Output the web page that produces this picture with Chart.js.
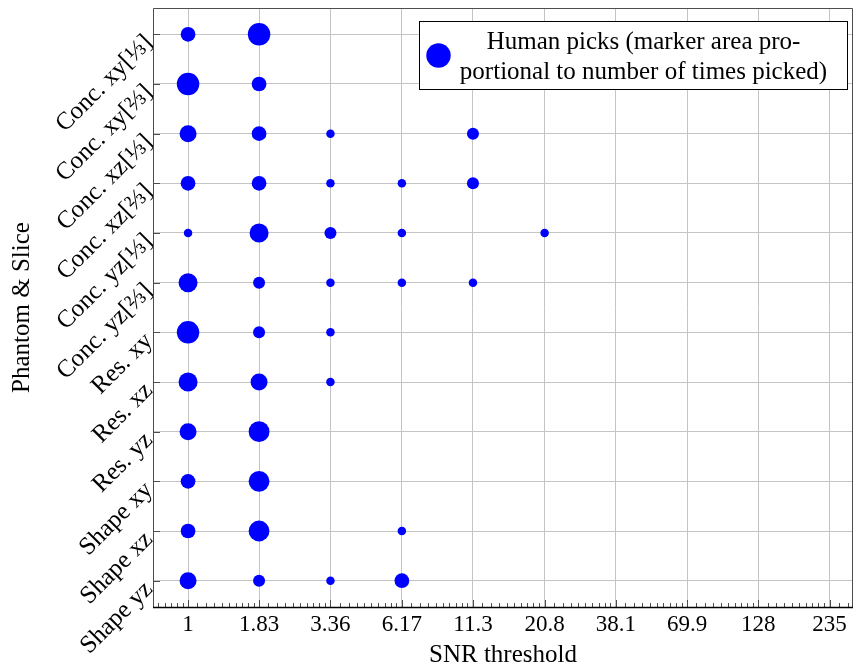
<!DOCTYPE html>
<html>
<head>
<meta charset="utf-8">
<script src="https://cdn.jsdelivr.net/npm/chart.js@4/dist/chart.umd.min.js"></script>
<style>
  html, body { margin: 0; padding: 0; background: #ffffff; }
  #wrap { width: 854px; height: 671px; }
</style>
</head>
<body>
<div id="wrap"><canvas id="chart" width="854" height="671"></canvas></div>
<script>
// Phantom / slice combinations shown on the vertical axis (top to bottom)
const slices = [
  'Conc. xy[⅓]', 'Conc. xy[⅔]', 'Conc. xz[⅓]', 'Conc. xz[⅔]',
  'Conc. yz[⅓]', 'Conc. yz[⅔]', 'Res. xy', 'Res. xz', 'Res. yz',
  'Shape xy', 'Shape xz', 'Shape yz'
];

// SNR thresholds offered to the readers (log-spaced)
const snrThresholds = [1, 1.83, 3.36, 6.17, 11.3, 20.8, 38.1, 69.9, 128, 235];
const snrTickLabels = ['1', '1.83', '3.36', '6.17', '11.3', '20.8', '38.1', '69.9', '128', '235'];

// Number of times each threshold was picked, one row per slice
const picks = [
  [3, 7, 0, 0, 0, 0, 0, 0, 0, 0],
  [7, 3, 0, 0, 0, 0, 0, 0, 0, 0],
  [4, 3, 1, 0, 2, 0, 0, 0, 0, 0],
  [3, 3, 1, 1, 2, 0, 0, 0, 0, 0],
  [1, 5, 2, 1, 0, 1, 0, 0, 0, 0],
  [5, 2, 1, 1, 1, 0, 0, 0, 0, 0],
  [7, 2, 1, 0, 0, 0, 0, 0, 0, 0],
  [5, 4, 1, 0, 0, 0, 0, 0, 0, 0],
  [4, 6, 0, 0, 0, 0, 0, 0, 0, 0],
  [3, 6, 0, 0, 0, 0, 0, 0, 0, 0],
  [3, 6, 0, 1, 0, 0, 0, 0, 0, 0],
  [4, 2, 1, 3, 0, 0, 0, 0, 0, 0]
];

const legendLines = ['Human picks (marker area pro-', 'portional to number of times picked)'];

// marker area proportional to the pick count
const RADIUS_PER_SQRT_PICK = 4.25;
const radiusFor = n => RADIUS_PER_SQRT_PICK * Math.sqrt(n);

const points = [];
picks.forEach((row, yi) => {
  row.forEach((n, xi) => {
    if (n > 0) points.push({ x: snrThresholds[xi], y: yi, r: radiusFor(n), n: n });
  });
});

const FONT = "'Liberation Serif', 'Times New Roman', serif";
const TEXT_SIZE = 25;
const TICK_SIZE = 23;
const BLUE = '#0000ff';
const GRID = '#c4c4c4';
const AXIS = '#4d4d4d';

// axis frame, inward tick marks and the boxed legend
const decorations = {
  id: 'decorations',
  afterDraw(chart) {
    const { ctx, chartArea: a, scales } = chart;
    const xs = scales.x, ys = scales.y;
    ctx.save();

    // minor ticks: nine linear subdivisions of every interval between thresholds
    const ratio = snrThresholds[1] / snrThresholds[0];
    const majors = [snrThresholds[0] / ratio, ...snrThresholds, snrThresholds[snrThresholds.length - 1] * ratio];
    ctx.strokeStyle = AXIS;
    ctx.lineWidth = 1;
    ctx.beginPath();
    for (let i = 0; i < majors.length - 1; i++) {
      const lo = majors[i], hi = majors[i + 1];
      for (let j = 1; j < 10; j++) {
        const v = lo + (hi - lo) * j / 10;
        const px = Math.round(xs.getPixelForValue(v)) + 0.5;
        if (px <= a.left + 1 || px >= a.right - 1) continue;
        ctx.moveTo(px, a.bottom);
        ctx.lineTo(px, a.bottom - 4);
      }
    }
    // major ticks on the bottom axis
    snrThresholds.forEach(v => {
      const px = Math.round(xs.getPixelForValue(v)) + 0.5;
      ctx.moveTo(px, a.bottom);
      ctx.lineTo(px, a.bottom - 7);
    });
    // category ticks on the left axis
    slices.forEach((_, i) => {
      const py = Math.round(ys.getPixelForValue(i)) + 0.5;
      ctx.moveTo(a.left, py);
      ctx.lineTo(a.left + 7, py);
    });
    ctx.stroke();

    // frame
    ctx.strokeStyle = AXIS;
    ctx.beginPath();
    ctx.rect(Math.round(a.left) + 0.5, Math.round(a.top) + 0.5,
             Math.round(a.right - a.left) - 1, Math.round(a.bottom - a.top));
    ctx.stroke();
    // heavier bottom axis line
    ctx.strokeStyle = '#000';
    ctx.lineWidth = 1.4;
    ctx.beginPath();
    ctx.moveTo(a.left, Math.round(a.bottom) + 0.5);
    ctx.lineTo(a.right, Math.round(a.bottom) + 0.5);
    ctx.stroke();

    // legend box in the upper right corner
    const w = 428, h = 68;
    const bx = Math.round(a.right - 6 - w) + 0.5;
    const by = Math.round(a.top + 13) + 0.5;
    ctx.fillStyle = '#ffffff';
    ctx.fillRect(bx, by, w, h);
    ctx.strokeStyle = '#000';
    ctx.lineWidth = 1;
    ctx.strokeRect(bx, by, w, h);
    ctx.fillStyle = BLUE;
    ctx.beginPath();
    ctx.arc(bx + 19, by + h / 2, 12.2, 0, Math.PI * 2);
    ctx.fill();
    ctx.fillStyle = '#000';
    ctx.font = TEXT_SIZE + 'px ' + FONT;
    ctx.textAlign = 'center';
    ctx.textBaseline = 'alphabetic';
    const cx = bx + 224;
    ctx.fillText(legendLines[0], cx, by + 27);
    ctx.fillText(legendLines[1], cx, by + 57);
    ctx.restore();
  }
};

new Chart(document.getElementById('chart'), {
  type: 'bubble',
  data: {
    datasets: [{
      label: legendLines.join(''),
      data: points,
      backgroundColor: BLUE,
      borderColor: BLUE,
      borderWidth: 0,
      hoverBorderWidth: 0
    }]
  },
  options: {
    responsive: false,
    animation: false,
    events: [],
    layout: { autoPadding: false, padding: { top: 8, right: 1, left: 0, bottom: 0 } },
    plugins: { legend: { display: false }, tooltip: { enabled: false } },
    scales: {
      x: {
        type: 'logarithmic',
        bounds: 'data',
        min: 0.742,
        max: 287,
        afterBuildTicks: s => { s.ticks = snrThresholds.map(v => ({ value: v })); },
        afterFit: s => { s.height = 64; s.paddingLeft = 0; s.paddingRight = 0; },
        border: { display: false },
        grid: { color: GRID, lineWidth: 1, drawTicks: false },
        ticks: {
          autoSkip: false, maxRotation: 0, minRotation: 0, padding: 4,
          color: '#000', font: { family: FONT, size: TICK_SIZE },
          callback: (v, i) => snrTickLabels[i]
        },
        title: {
          display: true, text: 'SNR threshold', color: '#000',
          font: { family: FONT, size: TEXT_SIZE }, padding: { top: 0, bottom: 1 }
        }
      },
      y: {
        type: 'linear',
        reverse: true,
        min: -0.53,
        max: 11.53,
        afterBuildTicks: s => { s.ticks = slices.map((_, i) => ({ value: i })); },
        afterFit: s => { s.width = 153; s.paddingTop = 0; s.paddingBottom = 0; },
        border: { display: false },
        grid: { color: GRID, lineWidth: 1, drawTicks: false },
        ticks: {
          autoSkip: false, minRotation: 45, maxRotation: 45, padding: 4, labelOffset: 5,
          color: '#000', font: { family: FONT, size: TEXT_SIZE },
          callback: (v, i) => slices[i]
        },
        title: {
          display: true, text: 'Phantom & Slice', color: '#000',
          font: { family: FONT, size: TEXT_SIZE }, padding: { top: 7, bottom: 0 }
        }
      }
    }
  },
  plugins: [decorations]
});
</script>
</body>
</html>
